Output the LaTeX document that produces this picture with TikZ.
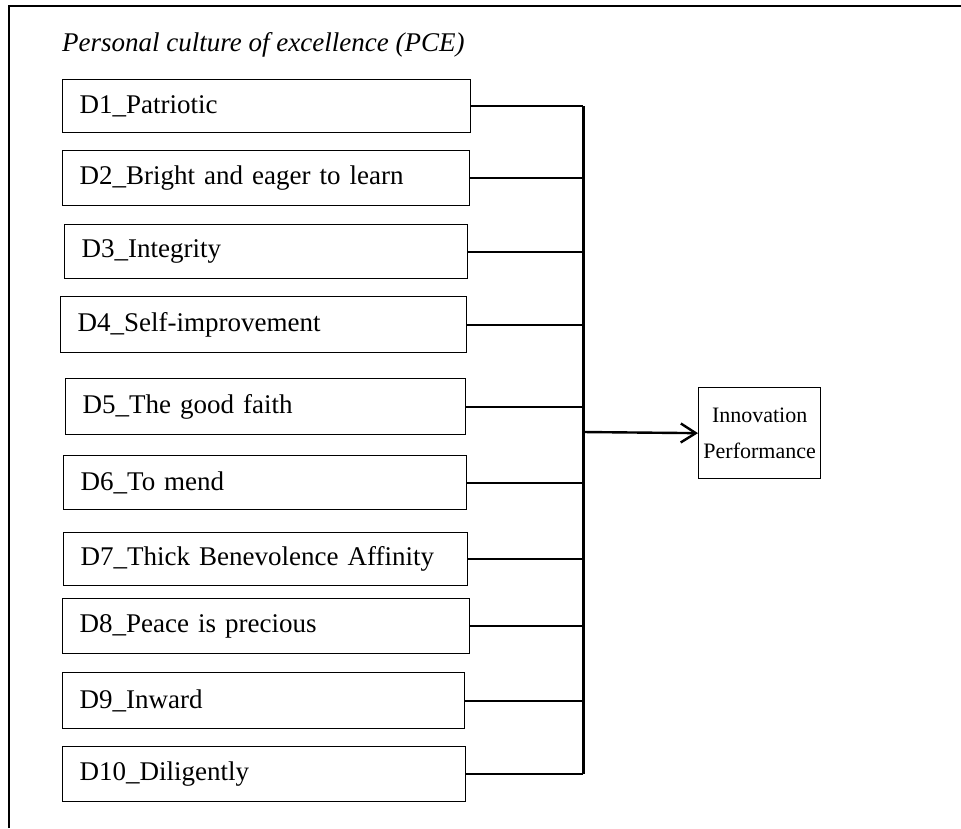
\documentclass[tikz,border=0pt]{standalone}
\usepackage{fontspec}
\setmainfont{Liberation Serif}
\usetikzlibrary{arrows,arrows.meta,positioning}
\tikzstyle{arrow} = [-{Straight Barb[length=15pt,width=19pt]}, line width=2.4pt]
\tikzstyle{line} = [draw, line width=1.8pt]
\tikzstyle{bus} = [draw, line width=3pt]
\tikzstyle{frame} = [draw, line width=2pt]
\tikzstyle{dim} = [rectangle, draw, line width=1.3pt, anchor=north west,
   inner xsep=17pt, inner ysep=0pt, align=left, font=\fontsize{27}{32}\selectfont]
\tikzstyle{result} = [rectangle, draw, line width=1.3pt, anchor=north west,
   inner sep=0pt, align=center, font=\fontsize{22}{36}\selectfont]

\begin{document}
\begin{tikzpicture}[x=1pt, y=-1pt]
\useasboundingbox (0,0) rectangle (961,828);

\draw [frame] (9,828) -- (9,6) -- (961,6);

\node (title) [anchor=base west, inner sep=0pt, font=\fontsize{27}{32}\selectfont\itshape] at (62,51) {Personal culture of excellence (PCE)};

\node (d1) [dim, text width=374pt, minimum height=53pt] at (62,79) {D1\_Patriotic};
\node (d2) [dim, text width=373pt, minimum height=55pt] at (62,150) {D2\_Bright and eager to learn};
\node (d3) [dim, text width=369pt, minimum height=54pt] at (64,224) {D3\_Integrity};
\node (d4) [dim, text width=372pt, minimum height=56pt] at (60,296) {D4\_Self-improvement};
\node (d5) [dim, text width=366pt, minimum height=56pt] at (65,378) {D5\_The good faith};
\node (d6) [dim, text width=369pt, minimum height=54pt] at (63,455) {D6\_To mend};
\node (d7) [dim, text width=370pt, minimum height=53pt] at (63,532) {D7\_Thick Benevolence Affinity};
\node (d8) [dim, text width=373pt, minimum height=55pt] at (62,598) {D8\_Peace is precious};
\node (d9) [dim, text width=368pt, minimum height=56pt] at (62,672) {D9\_Inward};
\node (d10) [dim, text width=369pt, minimum height=55pt] at (62,746) {D10\_Diligently};

\node (ip) [result, minimum width=122pt, minimum height=91pt] at (698,387) {Innovation\\Performance};

\coordinate (hub) at (583,432);

\draw [line] (d1.east) -- (d1.east -| hub);
\draw [line] (d2.east) -- (d2.east -| hub);
\draw [line] (d3.east) -- (d3.east -| hub);
\draw [line] (d4.east) -- (d4.east -| hub);
\draw [line] (d5.east) -- (d5.east -| hub);
\draw [line] (d6.east) -- (d6.east -| hub);
\draw [line] (d7.east) -- (d7.east -| hub);
\draw [line] (d8.east) -- (d8.east -| hub);
\draw [line] (d9.east) -- (d9.east -| hub);
\draw [line] (d10.east) -- (d10.east -| hub);

\draw [bus] (d1.east -| hub) -- (d10.east -| hub);

\draw [arrow] (hub) -- (ip.west);

\end{tikzpicture}
\end{document}
